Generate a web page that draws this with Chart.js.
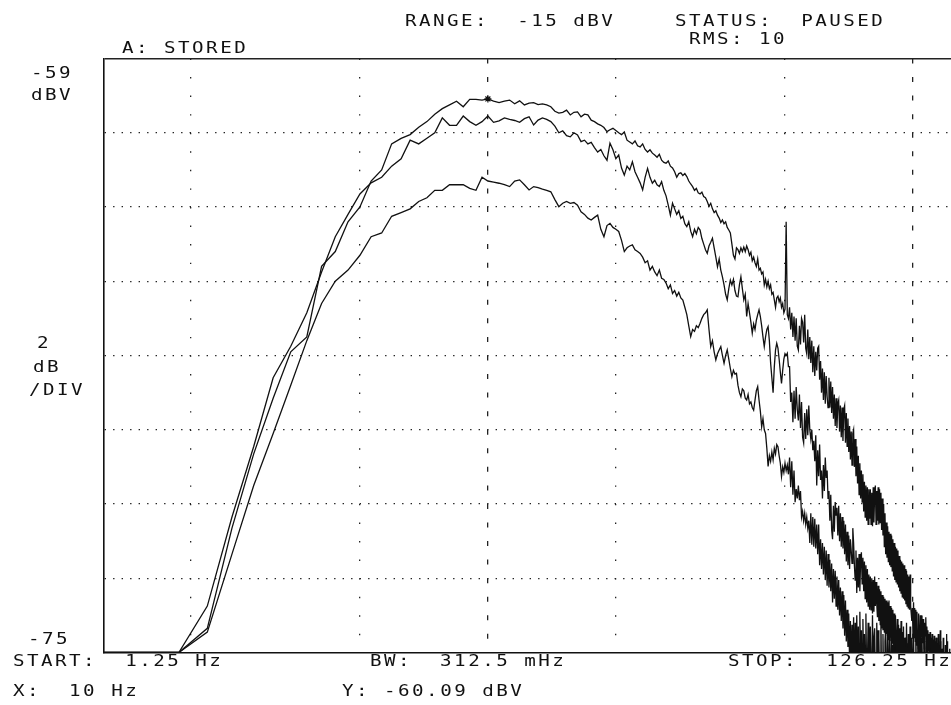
<!DOCTYPE html>
<html>
<head>
<meta charset="utf-8">
<title>Spectrum - stored traces</title>
<script src="https://cdn.jsdelivr.net/npm/chart.js@4.4.1/dist/chart.umd.min.js"></script>
<style>
  html, body { margin: 0; padding: 0; background: #fff; overflow: hidden; }
  #wrap { position: relative; width: 951px; height: 705px; overflow: hidden; }
  #spectrum { position: absolute; left: 0; top: 0; }
  .t {
    position: absolute;
    font-family: "DejaVu Sans Mono", "Liberation Mono", monospace;
    font-size: 16px;
    line-height: 16px;
    letter-spacing: 2.05px;
    color: #111;
    white-space: pre;
    transform: scaleX(1.2);
    transform-origin: 0 0;
  }
</style>
</head>
<body>
<div id="wrap">
  <canvas id="spectrum" width="968" height="705"></canvas>

  <div class="t" style="left:405px;top:13px">RANGE:  -15 dBV</div>
  <div class="t" style="left:675px;top:13px">STATUS:  PAUSED</div>
  <div class="t" style="left:122px;top:40px">A: STORED</div>
  <div class="t" style="left:689px;top:31px">RMS: 10</div>

  <div class="t" style="left:31px;top:65px">-59</div>
  <div class="t" style="left:31px;top:87px">dBV</div>
  <div class="t" style="left:37px;top:335px">2</div>
  <div class="t" style="left:33px;top:359px">dB</div>
  <div class="t" style="left:29px;top:382px">/DIV</div>
  <div class="t" style="left:28px;top:631px">-75</div>

  <div class="t" style="left:13px;top:653px">START:  1.25 Hz</div>
  <div class="t" style="left:370px;top:653px">BW:  312.5 mHz</div>
  <div class="t" style="left:728px;top:653px">STOP:  126.25 Hz</div>
  <div class="t" style="left:13px;top:683px">X:  10 Hz</div>
  <div class="t" style="left:342px;top:683px">Y: -60.09 dBV</div>
</div>

<script>
// analyzer bins: 401 lines from START to STOP
const START_HZ = 1.25;
const STEP_HZ = 0.3125;

// vertical grid (Hz); 10 and 100 drawn dashed
const gridHz = [2, 5, 10, 20, 50, 100];
const majorHz = [10, 100];

// marker readout
const markerHz = [10];
const markerDbv = [-60.09];

// dBV per bin
const traceA = [
  -75, -75, -75, -74.35, -71.65, -69.65, -68.15, -66.9, -66.5, -64.6,
  -64.2, -63.4, -63.0, -62.3, -62.0, -61.3, -61.15, -61.05, -60.85, -60.7,
  -60.5, -60.35, -60.25, -60.15, -60.3, -60.1, -60.1, -60.12, -60.09, -60.15,
  -60.19, -60.15, -60.12, -60.22, -60.14, -60.25, -60.2, -60.19, -60.24, -60.22,
  -60.25, -60.3, -60.42, -60.47, -60.45, -60.39, -60.52, -60.45, -60.44, -60.57,
  -60.5, -60.52, -60.66, -60.7, -60.76, -60.8, -60.86, -60.97, -60.92, -60.88,
  -60.94, -61.0, -61.05, -60.98, -61.2, -61.25, -61.3, -61.22, -61.35, -61.38,
  -61.3, -61.45, -61.52, -61.46, -61.55, -61.6, -61.66, -61.58, -61.74, -61.8,
  -61.82, -61.76, -61.9, -61.95, -62.05, -62.2, -62.1, -62.08, -62.15, -62.1,
  -62.18, -62.3, -62.38, -62.45, -62.55, -62.5, -62.62, -62.65, -62.6, -62.72,
  -62.75, -62.85, -62.98, -62.9, -63.05, -63.15, -63.1, -63.22, -63.3, -63.42,
  -63.35, -63.45, -63.4, -63.55, -63.62, -63.7, -64.0, -64.3, -64.4, -64.1,
  -64.15, -64.25, -64.1, -64.2, -64.08, -64.2, -64.05, -64.15, -64.3, -64.22,
  -64.45, -64.35, -64.5, -64.6, -64.4, -64.7, -64.65, -64.8, -64.75, -65.1,
  -64.95, -65.15, -65.0, -65.2, -65.1, -65.35, -65.3, -65.5, -65.7, -65.45,
  -65.4, -65.55, -65.45, -65.7, -65.6, -65.85, -65.75, -63.4, -65.9, -66.0,
  -65.7, -66.3, -65.85, -66.5, -65.95, -66.6, -66.0, -66.75, -66.85, -66.2,
  -66.7, -66.0, -66.1, -66.65, -65.9, -66.8, -66.95, -66.3, -67.1, -66.5,
  -67.2, -66.6, -67.45, -66.75, -67.55, -66.9, -67.4, -66.8, -66.75, -67.65,
  -67.15, -68.0, -67.35, -68.2, -67.45, -68.3, -67.55, -68.1, -68.4, -67.6,
  -68.4, -67.7, -68.55, -67.85, -68.7, -68.05, -68.9, -68.15, -68.95, -68.3,
  -68.2, -69.05, -68.35, -69.2, -68.4, -69.3, -68.45, -68.35, -69.35, -68.55,
  -69.45, -68.7, -69.6, -68.9, -69.8, -69.05, -69.95, -69.1, -69.0, -70.0,
  -69.25, -70.25, -69.45, -70.45, -69.7, -70.75, -69.9, -70.85, -70.1, -70.95,
  -70.2, -71.2, -70.4, -71.35, -70.5, -71.45, -70.55, -71.55, -70.6, -71.4,
  -70.6, -71.55, -70.7, -71.6, -70.55, -71.5, -70.75, -70.5, -71.55, -70.65,
  -71.45, -70.55, -71.55, -70.6, -71.5, -70.7, -71.7, -70.85, -71.85, -71.0,
  -72.15, -71.25, -72.35, -71.5, -72.45, -71.6, -72.55, -71.75, -72.65, -71.8,
  -72.7, -71.85, -72.8, -71.95, -72.95, -72.05, -73.05, -72.15, -73.1, -72.2,
  -73.15, -72.25, -73.25, -72.4, -73.35, -72.5, -73.4, -72.55, -73.5, -72.6,
  -73.55, -72.65, -73.6, -72.75, -73.7, -72.8, -73.75, -72.9, -73.8, -72.95,
  -73.85, -72.9, -73.75, -73.95, -74.15, -73.8, -74.5, -73.65, -74.6, -73.8,
  -74.7, -73.85, -74.8, -73.9, -74.65, -74.9, -73.95, -74.75, -75.0, -74.0,
  -74.6, -74.0, -74.5, -74.75, -74.1, -74.6, -74.9, -74.2, -74.55, -74.05,
  -74.7, -74.3, -74.85, -74.4, -74.95, -74.5, -75.1, -74.45, -74.9, -74.6,
  -75.2, -74.5, -75.0, -74.65, -75.3, -74.55, -75.1, -74.7, -75.4, -74.6,
  -75.2, -74.75, -75.5, -74.5, -75.3, -74.8, -75.6, -74.4, -75.2, -74.9,
  -75.6, -75.3, -75.8, -74.6, -75.5, -75.9, -75.4, -75.7, -75.2, -75.8,
  -74.5, -75.6, -75.9, -75.4, -75.7, -75.5, -75.8, -75.6, -75.9, -75.5,
  -75.7, -75.8, -75.6, -75.9, -75.5, -75.7, -75.8, -75.6, -75.9, -75.7,
  -75.8
];

const traceB = [
  -75, -75, -75, -73.75, -71.35, -69.45, -67.6, -66.75, -65.85, -64.75,
  -63.8, -63.2, -62.65, -62.35, -62.2, -61.9, -61.7, -61.2, -61.3, -61.15,
  -61.0, -60.6, -60.8, -60.8, -60.55, -60.7, -60.8, -60.7, -60.55, -60.72,
  -60.68, -60.6, -60.64, -60.67, -60.72, -60.62, -60.57, -60.79, -60.66, -60.6,
  -60.64, -60.7, -60.82, -61.0, -60.95, -61.08, -61.11, -61.0, -61.06, -61.24,
  -61.2, -61.3, -61.26, -61.4, -61.52, -61.45, -61.62, -61.74, -61.28, -61.46,
  -61.7, -61.6, -61.95, -62.14, -61.9, -62.0, -61.78, -62.05, -62.2, -62.35,
  -62.54, -62.2, -61.96, -62.2, -62.36, -62.28, -62.4, -62.45, -62.32, -62.55,
  -62.7, -62.95, -63.22, -62.9, -63.05, -63.2, -63.1, -63.31, -63.25, -63.45,
  -63.53, -63.4, -63.65, -63.8, -63.6, -63.72, -63.55, -63.62, -63.85, -64.0,
  -64.15, -64.25, -64.05, -63.95, -63.84, -64.1, -64.35, -64.61, -64.4, -64.7,
  -64.88, -65.1, -65.35, -65.5, -65.2, -64.97, -65.1, -64.95, -65.25, -65.4,
  -65.42, -65.1, -64.88, -65.2, -65.5, -65.35, -65.95, -65.6, -65.85, -66.1,
  -66.4, -66.15, -66.3, -66.05, -65.9, -65.77, -65.95, -66.2, -66.5, -66.76,
  -66.5, -66.3, -66.22, -66.6, -67.2, -67.6, -68.0, -67.3, -66.85, -66.67,
  -66.8, -67.1, -67.45, -67.75, -67.4, -67.1, -66.95, -67.0, -66.94, -67.3,
  -67.3, -68.25, -68.0, -68.8, -67.95, -68.7, -67.85, -68.45, -68.75, -68.05,
  -68.95, -68.25, -69.2, -69.35, -68.55, -69.25, -68.45, -69.15, -68.35, -69.0,
  -69.25, -69.0, -69.55, -69.3, -69.85, -69.15, -70.5, -69.55, -70.25, -69.4,
  -70.35, -70.1, -70.85, -69.95, -70.65, -69.75, -70.3, -70.1, -70.85, -70.65,
  -71.45, -70.75, -71.7, -71.95, -71.05, -71.75, -70.95, -71.3, -71.1, -71.85,
  -71.05, -72.0, -71.25, -72.15, -71.35, -72.2, -71.45, -72.35, -71.55, -72.55,
  -71.75, -72.65, -71.85, -72.75, -71.95, -72.25, -72.6, -71.65, -72.05, -72.65,
  -73.05, -72.25, -73.4, -72.45, -73.25, -72.35, -73.35, -72.5, -72.3, -73.15,
  -72.45, -73.35, -72.55, -73.55, -72.65, -73.65, -72.75, -73.75, -72.9, -73.85,
  -72.95, -73.85, -73.0, -73.95, -73.05, -73.9, -72.95, -73.75, -73.1, -73.7,
  -74.05, -73.2, -74.15, -73.3, -74.25, -73.35, -74.35, -73.45, -74.4, -73.5,
  -74.45, -73.55, -74.55, -73.6, -74.5, -73.65, -74.65, -73.6, -74.6, -73.75,
  -74.7, -73.8, -74.75, -73.85, -74.85, -73.95, -74.95, -74.0, -74.65, -75.05,
  -74.1, -75.3, -74.25, -75.4, -74.35, -75.5, -74.15, -75.6, -74.45, -75.7,
  -74.3, -75.6, -74.6, -75.3, -75.7, -74.2, -75.5, -75.8, -74.5, -75.4,
  -75.7, -74.3, -75.6, -75.9, -74.6, -75.5, -75.8, -74.4, -75.6, -75.3,
  -75.9, -74.4, -75.5, -75.8, -75.2, -74.7, -75.7, -75.4, -75.9, -74.3,
  -75.6, -75.8, -74.6, -75.5, -75.9, -75.3, -74.5, -75.6, -75.8, -75.4,
  -74.7, -75.7, -75.5, -74.5, -75.8, -75.4, -75.9, -74.6, -75.6, -75.7,
  -75.3, -74.7, -75.8, -75.5, -75.9, -74.9, -75.6, -75.4, -75.8, -74.6,
  -75.7, -75.5, -75.9, -74.8, -75.6, -75.8, -75.4, -74.7, -75.9, -75.5,
  -75.8, -75.6, -74.9, -75.7, -75.5, -75.9, -75.6, -74.8, -75.7, -75.8,
  -75.5, -74.7, -75.9, -75.6, -75.8, -75.4, -74.9, -75.7, -75.5, -75.9,
  -75.6, -75.8, -75.5, -74.9, -75.7, -75.9, -75.6, -75.8, -75.5, -75.7,
  -75.9
];

const traceC = [
  -75, -75, -75, -74.45, -72.35, -70.5, -69.1, -67.8, -66.6, -65.6,
  -65.0, -64.7, -64.3, -63.8, -63.7, -63.25, -63.15, -63.05, -62.85, -62.75,
  -62.55, -62.55, -62.4, -62.4, -62.4, -62.5, -62.55, -62.2, -62.3, -62.33,
  -62.36, -62.4, -62.45, -62.3, -62.27, -62.4, -62.54, -62.45, -62.48, -62.52,
  -62.55, -62.59, -62.8, -62.99, -62.9, -62.85, -62.9, -62.88, -62.95, -63.13,
  -63.2, -63.3, -63.35, -63.28, -63.22, -63.6, -63.8, -63.5, -63.44, -63.55,
  -63.6, -63.66, -63.9, -64.2, -64.1, -64.05, -64.02, -64.15, -64.2, -64.25,
  -64.35, -64.5, -64.45, -64.7, -64.6, -64.75, -64.85, -64.7, -64.92, -64.95,
  -65.05, -65.2, -65.1, -65.33, -65.25, -65.4, -65.3, -65.45, -65.51, -65.7,
  -65.9, -66.2, -66.49, -66.3, -66.35, -66.2, -66.25, -66.13, -66.0, -65.9,
  -65.85, -65.77, -66.3, -66.76, -66.6, -66.9, -67.12, -66.95, -66.85, -66.76,
  -67.0, -67.21, -67.0, -66.85, -67.1, -67.35, -67.57, -67.4, -67.5, -67.48,
  -67.8, -68.0, -68.11, -67.9, -67.95, -68.15, -68.2, -68.05, -68.3, -68.25,
  -68.4, -68.47, -68.2, -67.95, -67.84, -68.2, -68.5, -68.92, -68.7, -69.0,
  -69.1, -69.5, -69.99, -69.7, -69.85, -69.6, -69.81, -69.5, -69.65, -69.4,
  -69.46, -69.7, -69.9, -70.26, -70.0, -70.15, -69.9, -70.1, -69.95, -70.2,
  -69.75, -70.55, -69.85, -70.75, -70.1, -70.95, -70.6, -70.85, -70.5, -70.9,
  -70.65, -71.35, -71.2, -71.45, -71.25, -71.55, -71.35, -71.65, -71.45, -72.05,
  -71.25, -72.1, -71.35, -72.15, -71.4, -72.2, -71.55, -72.35, -71.55, -72.65,
  -71.95, -72.75, -72.05, -72.9, -72.15, -73.05, -72.25, -73.2, -72.35, -73.25,
  -72.5, -73.35, -72.6, -73.65, -72.75, -73.55, -72.8, -73.75, -72.95, -73.85,
  -73.05, -74.0, -73.25, -74.15, -73.35, -74.35, -73.45, -74.55, -73.6, -74.7,
  -73.85, -74.85, -73.95, -75.3, -74.15, -75.4, -74.25, -75.6, -74.05, -75.7,
  -74.2, -75.3, -74.0, -75.6, -74.3, -75.8, -73.9, -75.4, -74.4, -75.7,
  -74.1, -75.5, -74.5, -75.8, -73.95, -75.6, -75.3, -74.2, -75.9, -74.6,
  -74.3, -75.7, -75.5, -74.0, -75.8, -74.6, -74.35, -75.6, -75.9, -74.2,
  -75.5, -74.4, -74.6, -75.6, -75.4, -74.1, -75.9, -75.5, -74.5, -75.7,
  -75.4, -74.7, -74.3, -75.6, -75.9, -74.4, -75.5, -75.7, -74.2, -75.8,
  -75.6, -74.5, -75.4, -74.8, -75.5, -74.3, -75.9, -75.6, -74.6, -75.5,
  -75.8, -74.6, -74.9, -75.7, -75.6, -74.5, -74.8, -75.5, -75.7, -74.7,
  -74.9, -75.8, -75.6, -74.6, -74.8, -75.9, -75.7, -74.75, -75.8, -74.9,
  -75.6, -75.8, -75.5, -75.9, -74.9, -75.7, -75.6, -75.8, -75.5, -75.9,
  -75.7, -75.0, -75.8, -75.6, -75.9, -75.5, -75.7, -75.1, -75.8, -75.6,
  -75.9, -75.5, -75.7, -75.8, -75.0, -75.6, -75.9, -75.7, -75.5, -75.8,
  -75.6, -75.9, -75.1, -75.7, -75.8, -75.5, -75.9, -75.6, -75.7, -75.8,
  -75.5, -75.9, -75.6, -75.8, -75.7, -75.9, -75.5, -75.8, -75.6, -75.9,
  -75.7, -75.8, -75.5, -75.9, -75.6, -75.8, -75.7, -75.9, -75.5, -75.8,
  -75.6, -75.9, -75.7, -75.8, -75.5, -75.9, -75.6, -75.8, -75.7, -75.9,
  -75.5, -75.8, -75.6, -75.9, -75.7, -75.8, -75.5, -75.9, -75.6, -75.8,
  -75.7, -75.9, -75.5, -75.8, -75.6, -75.9, -75.7, -75.8, -75.5, -75.9,
  -75.6
];

const freqs = traceA.map((v, i) => START_HZ + i * STEP_HZ);

function toPoints(values) {
    return values.map((v, i) => ({ x: freqs[i], y: v }));
}

const ink = '#111';
const traceStyle = {
    borderColor: ink,
    borderWidth: 1.3,
    pointRadius: 0,
    tension: 0,
    fill: false
};

const ctx = document.getElementById('spectrum').getContext('2d');

new Chart(ctx, {
    type: 'line',
    data: {
        datasets: [
            Object.assign({ label: 'A', data: toPoints(traceA) }, traceStyle),
            Object.assign({ label: 'B', data: toPoints(traceB) }, traceStyle),
            Object.assign({ label: 'C', data: toPoints(traceC) }, traceStyle),
            {
                label: 'marker',
                data: markerHz.map((f, i) => ({ x: f, y: markerDbv[i] })),
                showLine: false,
                pointStyle: 'star',
                pointRadius: 3.5,
                borderColor: ink,
                borderWidth: 1.2
            }
        ]
    },
    options: {
        responsive: false,
        animation: false,
        layout: {
            padding: { left: 104, right: 12, top: 58.5, bottom: 52.5 }
        },
        plugins: {
            legend: { display: false },
            tooltip: { enabled: false }
        },
        scales: {
            x: {
                type: 'logarithmic',
                position: 'bottom',
                min: START_HZ,
                max: 126.25,
                afterBuildTicks: function (scale) {
                    scale.ticks = gridHz.map(v => ({ value: v }));
                },
                ticks: { display: false },
                grid: {
                    drawTicks: false,
                    color: '#222',
                    lineWidth: 1.3
                },
                border: {
                    display: true,
                    color: ink,
                    width: 1.6,
                    dash: function (c) {
                        if (!c.tick) return [];
                        return majorHz.includes(c.tick.value) ? [5, 13.56] : [1.4, 17.16];
                    }
                }
            },
            y: {
                type: 'linear',
                min: -75,
                max: -59,
                ticks: { display: false, stepSize: 2 },
                grid: {
                    drawTicks: false,
                    color: function (c) {
                        return c.tick && c.tick.value === -75 ? 'rgba(0,0,0,0)' : '#222';
                    },
                    lineWidth: function (c) {
                        return c.tick && c.tick.value === -59 ? 1.6 : 1.2;
                    }
                },
                border: {
                    display: true,
                    color: ink,
                    width: 1.6,
                    dash: function (c) {
                        if (!c.tick || c.tick.value === -59) return [];
                        return [1.4, 7.1];
                    }
                }
            }
        }
    }
});
</script>
</body>
</html>
